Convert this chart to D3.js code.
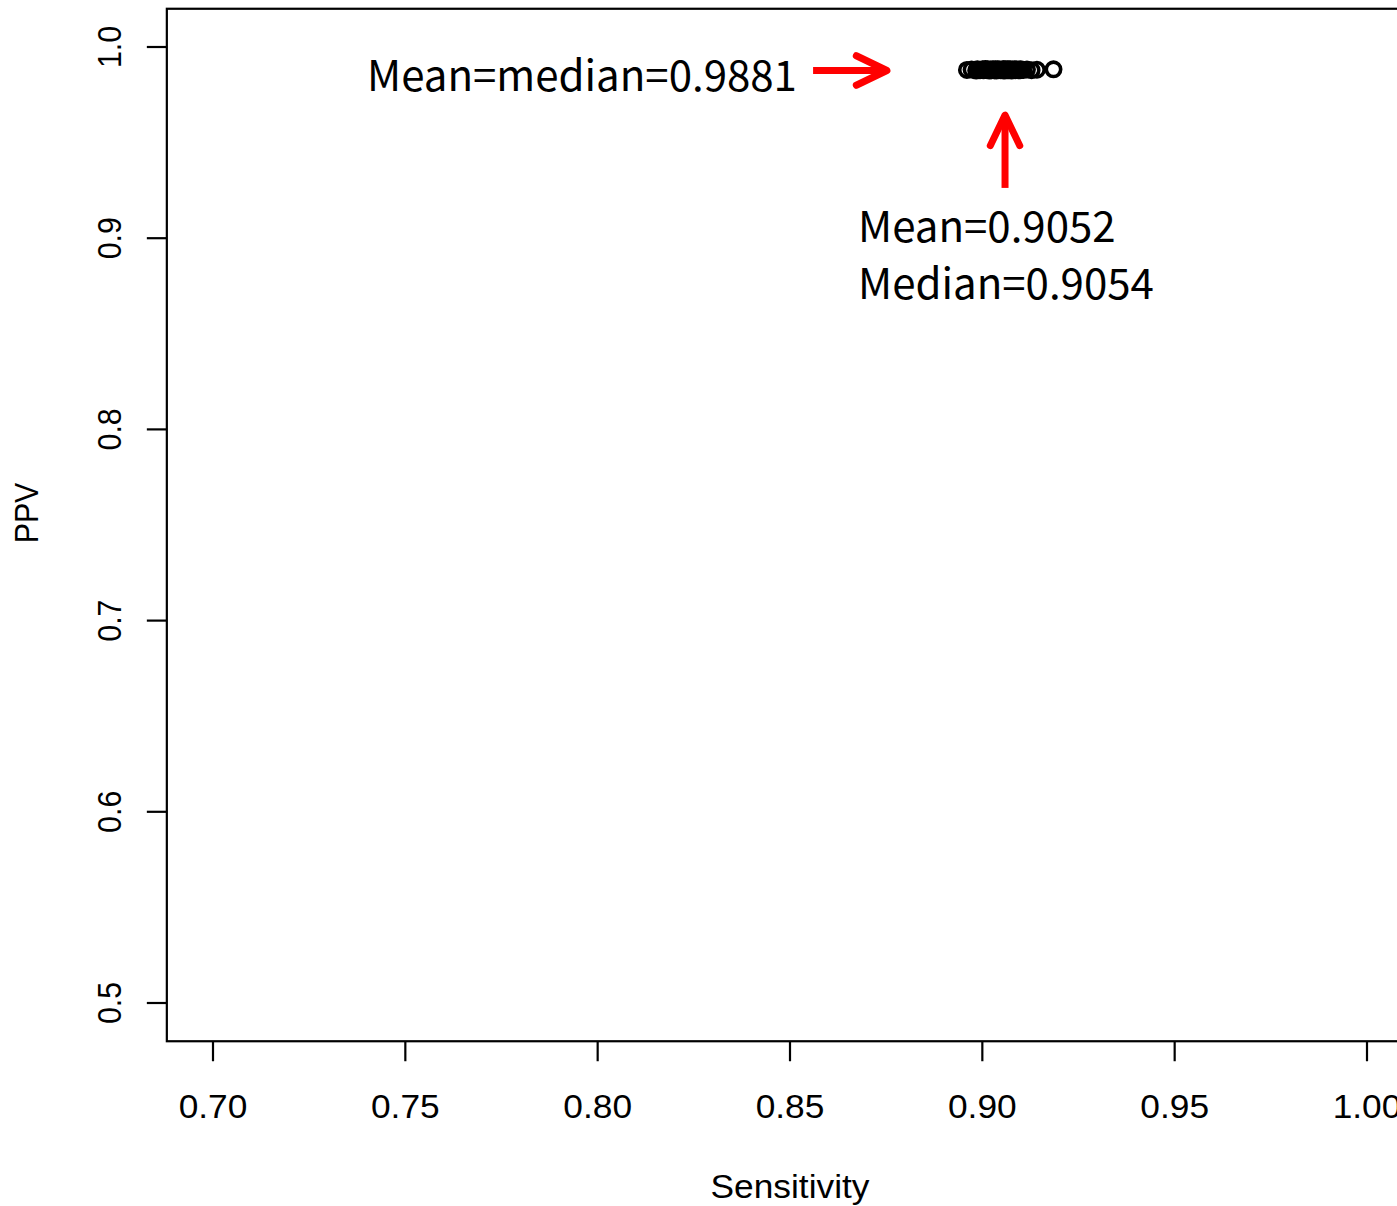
<!DOCTYPE html>
<html>
<head>
<meta charset="utf-8">
<script src="https://cdn.jsdelivr.net/npm/d3@7"></script>
<style>
  html, body { margin: 0; padding: 0; background: #fff; overflow: hidden; }
  svg { display: block; }
  .tick-label, .axis-title { font-family: "Liberation Sans", Arial, sans-serif; font-size: 33px; fill: #000; }
  .note { font-family: "Noto Sans CJK JP", "Noto Sans", sans-serif; font-size: 42px; fill: #000; }
</style>
</head>
<body>
<div id="chart"></div>
<script>
// Sensitivity vs PPV per run
const sensitivity = [
  0.8960, 0.8972, 0.8984, 0.8987, 0.8994, 0.9001, 0.9003, 0.9008, 0.9011, 0.9013, 0.9018,
  0.9021, 0.9023, 0.9027, 0.9029, 0.9031, 0.9034, 0.9036, 0.9040, 0.9042, 0.9044, 0.9048,
  0.9054, 0.9054, 0.9056, 0.9058, 0.9061, 0.9063, 0.9065, 0.9067, 0.9069, 0.9071, 0.9073,
  0.9076, 0.9078, 0.9083, 0.9086, 0.9088, 0.9098, 0.9100, 0.9106, 0.9116, 0.9128, 0.9142,
  0.9185
];
const ppv = [
  0.9880, 0.9882, 0.9877, 0.9884, 0.9879, 0.9883, 0.9878, 0.9885, 0.9880, 0.9883, 0.9877,
  0.9882, 0.9878, 0.9884, 0.9881, 0.9879, 0.9883, 0.9877, 0.9884, 0.9880, 0.9882, 0.9878,
  0.9884, 0.9879, 0.9883, 0.9877, 0.9882, 0.9880, 0.9883, 0.9878, 0.9882, 0.9880, 0.9884,
  0.9877, 0.9881, 0.9884, 0.9879, 0.9882, 0.9878, 0.9883, 0.9880, 0.9882, 0.9879, 0.9881,
  0.9883
];
const xTicks = [0.70, 0.75, 0.80, 0.85, 0.90, 0.95, 1.00];
const yTicks = [0.5, 0.6, 0.7, 0.8, 0.9, 1.0];
const xLabel = "Sensitivity";
const yLabel = "PPV";

// annotations, in data units
const arrows = [
  { x1: 0.8560, y1: 0.9877, x2: 0.8752, y2: 0.9877 },
  { x1: 0.9059, y1: 0.9263, x2: 0.9059, y2: 0.9644 }
];
const notes = [
  { x: 0.8518, y: 0.9770, anchor: "end",   text: "Mean=median=0.9881" },
  { x: 0.8677, y: 0.8980, anchor: "start", text: "Mean=0.9052" },
  { x: 0.8677, y: 0.8682, anchor: "start", text: "Median=0.9054" }
];

(() => {
  const width = 1397, height = 1206;

  const svg = d3.select("#chart").append("svg")
    .attr("width", width).attr("height", height);

  const x = d3.scaleLinear().domain([0.70, 1.00]).range([213, 1367]);
  const y = d3.scaleLinear().domain([0.5, 1.0]).range([1003, 47]);

  // R style: usr range is data range +4%
  const xPad = 0.04 * 0.30, yPad = 0.04 * 0.5;
  const left = x(0.70 - xPad), right = x(1.00 + xPad);
  const top = y(1.0 + yPad), bottom = y(0.5 - yPad);

  svg.append("rect")
    .attr("x", left).attr("y", top)
    .attr("width", right - left).attr("height", bottom - top)
    .attr("fill", "none").attr("stroke", "#000").attr("stroke-width", 2.2);

  // x axis
  const gx = svg.append("g");
  gx.selectAll("line").data(xTicks).join("line")
    .attr("x1", d => x(d)).attr("x2", d => x(d))
    .attr("y1", bottom).attr("y2", bottom + 20)
    .attr("stroke", "#000").attr("stroke-width", 2.2);
  gx.selectAll("text").data(xTicks).join("text")
    .attr("class", "tick-label")
    .attr("text-anchor", "middle")
    .attr("transform", d => `translate(${x(d)},1118) scale(1.07,1)`)
    .text(d => d3.format(".2f")(d));

  // y axis
  const gy = svg.append("g");
  gy.selectAll("line").data(yTicks).join("line")
    .attr("x1", left - 20).attr("x2", left)
    .attr("y1", d => y(d)).attr("y2", d => y(d))
    .attr("stroke", "#000").attr("stroke-width", 2.2);
  gy.selectAll("text").data(yTicks).join("text")
    .attr("class", "tick-label")
    .attr("text-anchor", "middle")
    .attr("transform", d => `translate(121,${y(d)}) rotate(-90) scale(0.92,1.03)`)
    .text(d => d3.format(".1f")(d));

  svg.append("text").attr("class", "axis-title")
    .attr("text-anchor", "middle")
    .attr("transform", `translate(${(left + right) / 2},1198) scale(1.07,1)`)
    .text(xLabel);
  svg.append("text").attr("class", "axis-title")
    .attr("text-anchor", "middle")
    .attr("transform", `translate(38,${(top + bottom) / 2 - 12}) rotate(-90) scale(0.92,1.03)`)
    .text(yLabel);

  // points
  svg.append("g").selectAll("circle")
    .data(sensitivity.map((s, i) => ({ s, p: ppv[i] })))
    .join("circle")
    .attr("cx", d => x(d.s)).attr("cy", d => y(d.p))
    .attr("r", 7.2)
    .attr("fill", "none").attr("stroke", "#000").attr("stroke-width", 3.6);

  // red arrows
  const head = 34, ang = Math.PI / 7;
  const ga = svg.append("g")
    .attr("stroke", "#ff0000").attr("stroke-width", 7)
    .attr("stroke-linecap", "round").attr("stroke-linejoin", "round").attr("fill", "none");
  arrows.forEach(a => {
    const x1 = x(a.x1), y1 = y(a.y1), x2 = x(a.x2), y2 = y(a.y2);
    const th = Math.atan2(y2 - y1, x2 - x1);
    ga.append("line").attr("x1", x1).attr("y1", y1).attr("x2", x2).attr("y2", y2)
      .attr("stroke-linecap", "butt");
    ga.append("path").attr("d", d3.line()([
      [x2 - head * Math.cos(th - ang), y2 - head * Math.sin(th - ang)],
      [x2, y2],
      [x2 - head * Math.cos(th + ang), y2 - head * Math.sin(th + ang)]
    ]));
  });

  // notes
  svg.append("g").selectAll("text").data(notes).join("text")
    .attr("class", "note")
    .attr("x", d => x(d.x)).attr("y", d => y(d.y))
    .attr("text-anchor", d => d.anchor)
    .text(d => d.text);
})();
</script>
</body>
</html>
